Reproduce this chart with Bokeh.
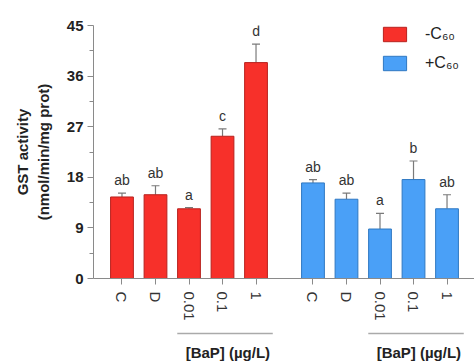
from bokeh.plotting import figure
from bokeh.layouts import column
from bokeh.core.properties import value
from bokeh.models import (ColumnDataSource, FixedTicker, Whisker, TeeHead,
                          LabelSet, Legend, LegendItem)
from bokeh.embed import file_html
from bokeh.resources import INLINE

# ---- data ----
categories = ["C", "D", "0.01", "0.1", "1"]
minus_c60 = [14.5, 14.9, 12.4, 25.3, 38.4]
minus_c60_err = [0.7, 1.6, 0.2, 1.3, 3.3]
minus_c60_sig = ["ab", "ab", "a", "c", "d"]
plus_c60 = [17.0, 14.1, 8.8, 17.6, 12.4]
plus_c60_err = [0.6, 1.1, 2.8, 3.3, 2.5]
plus_c60_sig = ["ab", "ab", "a", "b", "ab"]
y_ticks = [0, 9, 18, 27, 36, 45]
y_minor = [4.5, 13.5, 22.5, 31.5, 40.5]
group_label = "[BaP] (µg/L)"

RED = "#f7302a"
RED_EDGE = "#b8221e"
BLUE = "#4aa0f7"
BLUE_EDGE = "#2f78c2"
ERR = "#7a7a7a"
AXIS = "#8a8a8a"
FONT = "Liberation Sans"

red_x = [0, 1, 2, 3, 4]
blue_x = [5.7, 6.7, 7.7, 8.7, 9.7]

p = figure(width=474, height=323, output_backend="svg", toolbar_location=None,
           x_range=(-0.85, 10.52), y_range=(0, 45),
           min_border_left=93, min_border_right=0, min_border_top=25,
           min_border_bottom=45)
p.outline_line_color = None
p.grid.visible = False


def group(xs, vals, errs, sig, fill, edge):
    src = ColumnDataSource(dict(x=xs, top=vals,
                                upper=[v + e for v, e in zip(vals, errs)], sig=sig))
    r = p.vbar(x="x", top="top", width=0.68, bottom=0, source=src, fill_color=fill,
               line_color=edge, line_width=1)
    w = Whisker(base="x", lower="top", upper="upper", source=src, line_color=ERR,
                line_width=1.2, lower_head=None,
                upper_head=TeeHead(size=8, line_color=ERR, line_width=1.2))
    p.add_layout(w)
    ls = LabelSet(x="x", y="upper", text="sig", source=src, text_align="center",
                  text_baseline="bottom", y_offset=5, text_font=value(FONT),
                  text_font_size="14px", text_color="#333333")
    p.add_layout(ls)
    return r


r_red = group(red_x, minus_c60, minus_c60_err, minus_c60_sig, RED, RED_EDGE)
r_blue = group(blue_x, plus_c60, plus_c60_err, plus_c60_sig, BLUE, BLUE_EDGE)

# y axis
p.yaxis.ticker = FixedTicker(ticks=y_ticks, minor_ticks=y_minor)
p.yaxis.major_tick_out = 6
p.yaxis.major_tick_in = 0
p.yaxis.minor_tick_out = 4
p.yaxis.minor_tick_in = 0
p.yaxis.axis_line_color = AXIS
p.yaxis.major_tick_line_color = AXIS
p.yaxis.minor_tick_line_color = AXIS
p.yaxis.major_label_text_font = FONT
p.yaxis.major_label_text_font_style = "bold"
p.yaxis.major_label_text_font_size = "15px"
p.yaxis.major_label_text_color = "#222222"
p.yaxis.major_label_standoff = 4
p.yaxis.axis_label = "GST activity\n(nmol/min/mg prot)"
p.yaxis.axis_label_text_font = FONT
p.yaxis.axis_label_text_font_style = "bold"
p.yaxis.axis_label_text_font_size = "15px"
p.yaxis.axis_label_text_color = "#222222"
p.yaxis.axis_label_standoff = 12

# x axis
all_x = red_x + blue_x
p.xaxis.ticker = FixedTicker(ticks=all_x)
p.xaxis.major_label_overrides = {x: c for x, c in zip(all_x, categories * 2)}
p.xaxis.major_label_orientation = "vertical"
p.xaxis.major_tick_out = 6
p.xaxis.major_tick_in = 0
p.xaxis.minor_tick_out = 0
p.xaxis.axis_line_color = AXIS
p.xaxis.major_tick_line_color = AXIS
p.xaxis.major_label_text_font = FONT
p.xaxis.major_label_text_font_size = "15px"
p.xaxis.major_label_text_color = "#333333"
p.xaxis.major_label_standoff = 7

legend = Legend(items=[LegendItem(label="-C\u2086\u2080", renderers=[r_red]),
                       LegendItem(label="+C\u2086\u2080", renderers=[r_blue])],
                location=(287, 206), glyph_width=29, glyph_height=18, spacing=11,
                label_text_font=FONT, label_text_font_size="16px",
                label_text_color="#222222", label_standoff=16,
                border_line_color=None, background_fill_alpha=0)
p.add_layout(legend)

# strip below with the concentration brackets
p2 = figure(width=474, height=40, output_backend="svg", toolbar_location=None,
            x_range=p.x_range, y_range=(0, 40),
            min_border_left=93, min_border_right=0, min_border_top=0,
            min_border_bottom=0)
p2.outline_line_color = None
p2.grid.visible = False
p2.axis.visible = False

groups = [red_x, blue_x]
br = ColumnDataSource(dict(x0=[g[2] - 0.35 for g in groups],
                           x1=[g[4] + 0.5 for g in groups],
                           xc=[(g[2] + g[4]) / 2 + 0.16 for g in groups],
                           y=[30, 30], ty=[11, 11],
                           t=[group_label, group_label]))
p2.segment(x0="x0", x1="x1", y0="y", y1="y", source=br, line_color="#aaaaaa",
           line_width=1.5)
p2.text(x="xc", y="ty", text="t", source=br, text_align="center",
        text_baseline="middle", text_font=value(FONT), text_font_style="bold",
        text_font_size="15px", text_color="#222222")

layout = column(p, p2, spacing=0)
open("out.html", "w").write(file_html(layout, INLINE))
